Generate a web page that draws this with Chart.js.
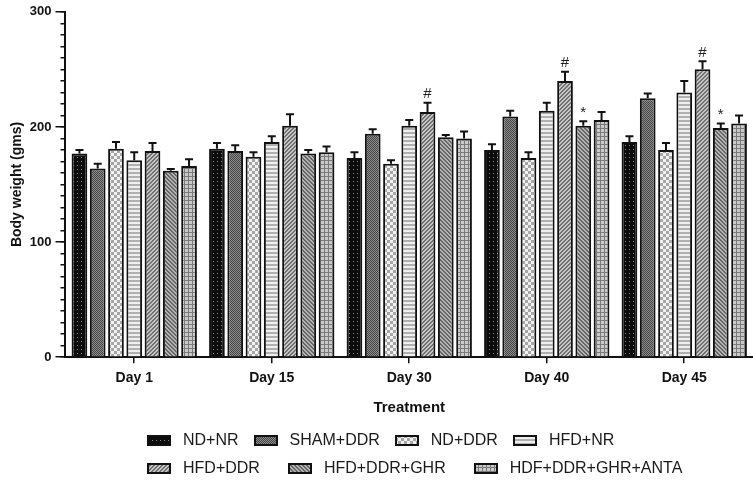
<!DOCTYPE html>
<html lang="en">
<head>
  <meta charset="UTF-8">
  <title>Body weight (gms)</title>
  <script src="https://cdn.jsdelivr.net/npm/chart.js"></script>
  <style>
    html, body { margin: 0; padding: 0; background: #fff; }
    #wrap { position: relative; width: 753px; height: 484px; overflow: hidden; }
    #chart { position: absolute; left: 0; top: 0; }
    .legend {
      position: absolute;
      left: 147px;
      height: 20px;
      display: flex;
      align-items: center;
      white-space: nowrap;
      font-family: "Liberation Sans", Arial, sans-serif;
      font-size: 16px;
      color: #1a1a1a;
    }
    .legend .item { display: flex; align-items: center; }
    .legend canvas { margin-right: 12px; }
    #row1 .item { margin-right: 15px; }
    #row2 .item { margin-right: 28px; }
  </style>
</head>
<body>
  <div id="wrap">
    <canvas id="chart" width="753" height="484"></canvas>
    <div class="legend" id="row1" style="top: 430px"></div>
    <div class="legend" id="row2" style="top: 458px"></div>
  </div>

  <script>
    // --- data ---
    const categories = ["Day 1", "Day 15", "Day 30", "Day 40", "Day 45"];
    const seriesNames = ["ND+NR", "SHAM+DDR", "ND+DDR", "HFD+NR", "HFD+DDR", "HFD+DDR+GHR", "HDF+DDR+GHR+ANTA"];

    const ndNr = [177, 181, 173, 180, 187];
    const shamDdr = [164, 179, 194, 209, 225];
    const ndDdr = [181, 174, 168, 173, 180];
    const hfdNr = [171, 187, 201, 214, 230];
    const hfdDdr = [179, 201, 213, 240, 250];
    const hfdDdrGhr = [162, 177, 191, 201, 199];
    const hdfDdrGhrAnta = [166, 178, 190, 206, 203];

    // upper error (SEM) for each bar
    const ndNrErr = [3, 5, 5, 5, 5];
    const shamDdrErr = [4, 5, 4, 5, 4];
    const ndDdrErr = [6, 4, 3, 5, 6];
    const hfdNrErr = [7, 5, 5, 7, 10];
    const hfdDdrErr = [7, 10, 8, 8, 7];
    const hfdDdrGhrErr = [1.5, 3, 2, 4, 4];
    const hdfDdrGhrAntaErr = [6, 5, 6, 7, 7];

    // significance marks above bars
    const hfdDdrMarks = ["", "", "#", "#", "#"];
    const hfdDdrGhrMarks = ["", "", "", "*", "*"];

    const FONT = "'Liberation Sans', Arial, sans-serif";
    Chart.defaults.font.family = FONT;
    Chart.defaults.color = "#111";

    // --- fill patterns (small pixel tiles) ---
    const tile = (w, h, fn) => {
      const c = document.createElement("canvas");
      c.width = w; c.height = h;
      const g = c.getContext("2d");
      for (let x = 0; x < w; x++) {
        for (let y = 0; y < h; y++) {
          g.fillStyle = fn(x, y);
          g.fillRect(x, y, 1, 1);
        }
      }
      return c;
    };

    const tiles = [
      tile(4, 4, (x, y) => (x % 4 === 1 && y % 4 === 1) ? "#8a8a8a" : "#0c0c0c"),          // dots on black
      tile(2, 2, (x, y) => ((x + y) % 2 === 0) ? "#474747" : "#8a8a8a"),                   // fine dark check
      tile(6, 6, (x, y) => ((Math.floor(x / 3) + Math.floor(y / 3)) % 2 === 0) ? "#f2f2f2" : "#a6a6a6"), // checker
      tile(1, 4, (x, y) => (y % 4 < 2) ? "#b0b0b0" : "#efefef"),                          // horizontal stripes
      tile(4, 4, (x, y) => ((x + y) % 4 < 2) ? "#707070" : "#c6c6c6"),                    // diagonal /
      tile(4, 4, (x, y) => ((x - y + 8) % 4 < 2) ? "#666666" : "#b4b4b4"),                // diagonal \
      tile(4, 4, (x, y) => (x % 4 === 0 || y % 4 === 0) ? "#7a7a7a" : "#cacaca")          // grid
    ];

    const canvas = document.getElementById("chart");
    const ctx = canvas.getContext("2d");
    const patterns = tiles.map(t => ctx.createPattern(t, "repeat"));

    const values = [ndNr, shamDdr, ndDdr, hfdNr, hfdDdr, hfdDdrGhr, hdfDdrGhrAnta];
    const errors = [ndNrErr, shamDdrErr, ndDdrErr, hfdNrErr, hfdDdrErr, hfdDdrGhrErr, hdfDdrGhrAntaErr];
    const marks = [null, null, null, null, hfdDdrMarks, hfdDdrGhrMarks, null];

    const datasets = seriesNames.map((name, i) => ({
      label: name,
      data: values[i],
      errors: errors[i],
      marks: marks[i],
      backgroundColor: patterns[i],
      borderColor: "#111",
      borderWidth: 2,
      categoryPercentage: 0.93,
      barPercentage: 0.86
    }));

    // error bars (upper only) + significance marks
    const errorBars = {
      id: "errorBars",
      afterDatasetsDraw(chart) {
        const c = chart.ctx;
        const y = chart.scales.y;
        chart.data.datasets.forEach((ds, i) => {
          const meta = chart.getDatasetMeta(i);
          meta.data.forEach((bar, j) => {
            const top = y.getPixelForValue(ds.data[j] + ds.errors[j]);
            c.save();
            c.strokeStyle = "#111";
            c.lineWidth = 2;
            c.beginPath();
            c.moveTo(bar.x, bar.y);
            c.lineTo(bar.x, top);
            c.moveTo(bar.x - 4, top);
            c.lineTo(bar.x + 4, top);
            c.stroke();
            if (ds.marks && ds.marks[j]) {
              c.fillStyle = "#222";
              c.font = "15px " + FONT;
              c.textAlign = "center";
              c.textBaseline = "bottom";
              c.fillText(ds.marks[j], bar.x, top - 1);
            }
            c.restore();
          });
        });
      }
    };

    new Chart(ctx, {
      type: "bar",
      data: { labels: categories, datasets: datasets },
      options: {
        responsive: false,
        animation: false,
        layout: { padding: { top: 0, right: 0, bottom: 63, left: 9 } },
        plugins: {
          legend: { display: false },
          tooltip: { enabled: false }
        },
        scales: {
          x: {
            grid: { display: true, drawOnChartArea: false, offset: false, tickLength: 6, color: "#111", lineWidth: 1.5 },
            border: { display: true, color: "#111", width: 2 },
            ticks: { color: "#111", padding: 7, font: { size: 14, weight: "bold" } },
            title: {
              display: true,
              text: "Treatment",
              color: "#111",
              font: { size: 15, weight: "bold" },
              padding: { top: 5, bottom: 4 }
            }
          },
          y: {
            min: 0,
            max: 300,
            weight: 1,
            grid: { drawOnChartArea: false, tickLength: 10, color: "#111", lineWidth: 1.5 },
            border: { display: true, color: "#111", width: 2 },
            ticks: {
              stepSize: 100,
              padding: 4,
              color: "#111",
              font: { size: 13, weight: "bold" }
            },
            title: {
              display: true,
              text: "Body weight (gms)",
              color: "#111",
              font: { size: 14, weight: "bold" },
              padding: { top: 0, bottom: 0 }
            }
          },
          // minor ticks every 10, drawn against the plot edge
          yMinor: {
            position: "left",
            min: 0,
            max: 300,
            weight: 0,
            grid: { drawOnChartArea: false, tickLength: 5, color: "#111", lineWidth: 1.5 },
            border: { display: false },
            ticks: { stepSize: 10, autoSkip: false, display: false },
            afterFit: scale => { scale.width = 0; }
          }
        }
      },
      plugins: [errorBars]
    });

    // --- legend, two rows like the figure ---
    const rows = [[0, 1, 2, 3], [4, 5, 6]];
    rows.forEach((idx, r) => {
      const row = document.getElementById("row" + (r + 1));
      idx.forEach(i => {
        const item = document.createElement("div");
        item.className = "item";
        const sw = document.createElement("canvas");
        sw.width = 24; sw.height = 11;
        const g = sw.getContext("2d");
        g.fillStyle = g.createPattern(tiles[i], "repeat");
        g.fillRect(0, 0, 24, 11);
        g.strokeStyle = "#111";
        g.lineWidth = 2;
        g.strokeRect(1, 1, 22, 9);
        const txt = document.createElement("span");
        txt.textContent = seriesNames[i];
        item.appendChild(sw);
        item.appendChild(txt);
        row.appendChild(item);
      });
    });
  </script>
</body>
</html>
